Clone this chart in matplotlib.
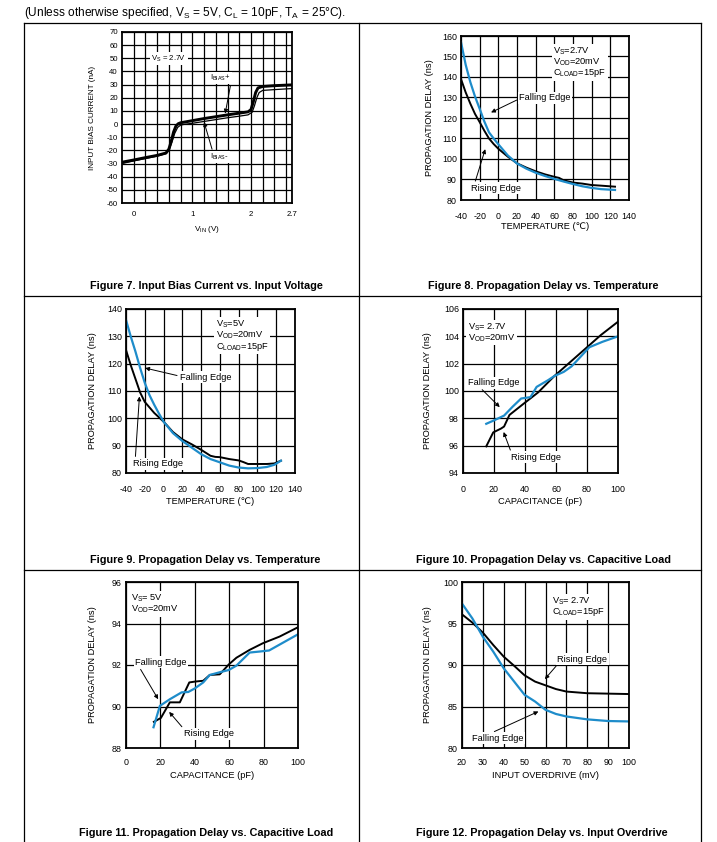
import matplotlib
matplotlib.use('Agg')
import matplotlib.pyplot as plt
from matplotlib import font_manager
from matplotlib.lines import Line2D


def pick_font(name, fallback):
    # use the narrow face if it is installed, otherwise the normal one
    try:
        font_manager.findfont(name, fallback_to_default=False)
        return name
    except Exception:
        return fallback


SANS = 'Liberation Sans'
NARROW = pick_font('Liberation Sans Narrow', SANS)
plt.rcParams['font.family'] = [SANS, 'DejaVu Sans']
plt.rcParams['mathtext.fontset'] = 'custom'
plt.rcParams['mathtext.rm'] = SANS
plt.rcParams['axes.unicode_minus'] = False

BLUE = '#1e8cca'

# 🔹 Figure 7: input bias current
vin_plus = [-0.2, 0.0, 0.2, 0.4, 0.55, 0.6, 0.64, 0.68, 0.72, 0.76, 0.8, 1.0, 1.2, 1.4,
            1.6, 1.8, 1.95, 2.0, 2.04, 2.08, 2.12, 2.2, 2.4, 2.7]
ibias_plus = [-29, -27.3, -25.5, -23.8, -22, -19, -13, -6, -1.5, 0.3, 1.0, 2.6, 4.2, 5.6,
              7.0, 8.3, 9.3, 11, 17, 24, 27.5, 28.6, 29.2, 29.8]
vin_minus = [-0.2, 0.0, 0.2, 0.4, 0.55, 0.6, 0.65, 0.7, 0.75, 0.8, 0.85, 1.0, 1.2, 1.4,
             1.6, 1.8, 1.95, 2.02, 2.06, 2.1, 2.14, 2.2, 2.4, 2.7]
ibias_minus = [-30, -28, -26.2, -24.4, -22.5, -20, -14, -7, -2.5, -0.8, -0.3, 0.6, 2.0, 3.4,
               4.8, 6.0, 7.0, 9, 14, 20, 24, 25.6, 26.2, 27]
vin_ticks = [0, 1, 2, 2.7]
vin_grid = [0.2 * k for k in range(14)]
ibias_ticks = list(range(-60, 71, 10))

# 🔹 Figure 8: delay vs temperature, Vs = 2.7V
t8_fall = [-40, -35, -30, -25, -20, -15, -10, -5, 0, 10, 20, 30, 40, 50, 60, 70, 80, 90, 100, 110, 125]
d8_fall = [157, 146, 137.5, 130.5, 124.5, 118.3, 113, 110, 107.2, 101.8, 97.8, 95.3, 93.3, 91.7,
           90.3, 89.0, 87.8, 86.7, 85.9, 85.3, 84.9]
t8_rise = [-40, -35, -30, -25, -20, -15, -10, -5, 0, 10, 20, 30, 40, 50, 60, 65, 70, 80, 90, 100, 110, 125]
d8_rise = [139, 132.5, 127, 122, 118, 113.8, 110, 107.3, 105, 101.2, 97.9, 95.8, 94, 92.5, 91.3,
           90.8, 89.6, 88.5, 88.0, 87.3, 87.0, 86.5]

# 🔹 Figure 9: delay vs temperature, Vs = 5V
t9_fall = [-40, -35, -30, -25, -20, -15, -10, -5, 0, 10, 20, 30, 40, 50, 60, 70, 80, 90, 100, 110, 118, 125]
d9_fall = [136, 130, 124.5, 118.5, 113, 108.5, 105, 101.8, 98.8, 94.6, 91.7, 89.3, 86.9, 85.1,
           83.9, 82.7, 82.0, 81.7, 81.8, 82.2, 83.0, 84.5]
t9_rise = [-40, -35, -30, -25, -20, -15, -10, 0, 10, 20, 30, 40, 50, 55, 60, 70, 80, 85, 90, 100, 110, 118, 125]
d9_rise = [125, 119.5, 114.5, 109.5, 106, 104, 102, 98.8, 95.0, 92.3, 90.5, 88.5, 86.3, 85.9,
           85.8, 85.1, 84.6, 84.0, 83.3, 83.3, 83.3, 83.5, 84.5]
temp_ticks = list(range(-40, 141, 20))

# 🔹 Figure 10: delay vs capacitance, Vs = 2.7V
c10_fall = [15, 20, 26.5, 32, 37.5, 43.5, 47.5, 55, 59, 65, 70, 75, 81.5, 90, 100]
d10_fall = [97.6, 97.85, 98.2, 98.85, 99.45, 99.55, 100.3, 100.8, 101.1, 101.4, 101.8, 102.4,
            103.2, 103.6, 104.0]
c10_rise = [15, 19.5, 24.5, 26.5, 30, 40, 48.5, 59, 69, 79, 89, 100]
d10_rise = [95.95, 96.97, 97.25, 97.4, 98.25, 99.15, 99.9, 101.1, 102.1, 103.1, 104.1, 105.07]

# 🔹 Figure 11: delay vs capacitance, Vs = 5V
c11_fall = [16, 19.7, 25.5, 32.3, 36.2, 40, 44.9, 48.7, 54.5, 59.8, 64.2, 71.9, 77.8, 83.2, 100]
d11_fall = [89.0, 90.03, 90.35, 90.68, 90.7, 90.87, 91.16, 91.52, 91.65, 91.76, 91.97, 92.6,
            92.65, 92.7, 93.48]
c11_rise = [16.2, 20.3, 25.5, 31.3, 36.8, 40, 44.9, 48.7, 54.5, 59.8, 64.2, 71.9, 79.6, 89.3, 100]
d11_rise = [89.26, 89.45, 90.2, 90.2, 91.16, 91.2, 91.24, 91.52, 91.55, 92.03, 92.35, 92.73,
            93.05, 93.37, 93.82]
cap_ticks = [0, 20, 40, 60, 80, 100]

# 🔹 Figure 12: delay vs overdrive
od12 = [20, 25, 30, 35, 40, 45, 50, 55, 60, 65, 70, 80, 90, 100]
d12_fall = [97.4, 95.6, 93.4, 91.6, 89.6, 88.0, 86.4, 85.6, 84.6, 84.1, 83.8, 83.45, 83.25, 83.2]
d12_rise = [96.1, 95.1, 93.9, 92.4, 91.0, 89.9, 88.75, 88.0, 87.55, 87.1, 86.8, 86.6, 86.55, 86.5]
od_ticks = list(range(20, 101, 10))

captions = ['Figure 7. Input Bias Current vs. Input Voltage',
            'Figure 8. Propagation Delay vs. Temperature',
            'Figure 9. Propagation Delay vs. Temperature',
            'Figure 10. Propagation Delay vs. Capacitive Load',
            'Figure 11. Propagation Delay vs. Capacitive Load',
            'Figure 12. Propagation Delay vs. Input Overdrive']

W, H = 717, 842
fig = plt.figure(figsize=(W / 100, H / 100), dpi=100)


def make_axes(l, t, r, b):
    ax = fig.add_axes([l / W, 1 - b / H, (r - l) / W, (b - t) / H])
    ax._px = (r - l, b - t)
    return ax


def style_axes(ax, xlim, ylim, xticks, yticks, xlabel, ylabel, xlab_px, ylab_px,
               size=6.4, lsize=6.7, xpad=8.3):
    ax.set_xlim(xlim)
    ax.set_ylim(ylim)
    ax.set_xticks(xticks)
    ax.set_yticks(yticks)
    ax.grid(True, which='both', color='black', lw=0.9)
    ax.set_axisbelow(True)
    ax.tick_params(which='both', length=0, labelsize=size)
    ax.tick_params(axis='x', pad=xpad)
    ax.tick_params(axis='y', pad=3)
    for s in ax.spines.values():
        s.set_linewidth(1.3)
    ax.set_xlabel(xlabel, fontsize=lsize)
    ax.set_ylabel(ylabel, fontsize=lsize)
    w, h = ax._px
    ax.xaxis.set_label_coords(0.5, -xlab_px / h)
    ax.yaxis.set_label_coords(-ylab_px / w, 0.5)


BOX = dict(boxstyle='square,pad=0.15', fc='white', ec='none')


def note(ax, label, tip, pos, rel, size=6.7):
    arrow = dict(arrowstyle='-|>', color='black', lw=0.7, mutation_scale=6,
                 shrinkA=1, shrinkB=0, relpos=rel)
    ax.annotate(label, xy=tip, xytext=pos, ha='left', va='center', fontsize=size,
                bbox=BOX, arrowprops=arrow)


def cond_box(ax, text, x, y, size=6.7):
    ax.text(x, y, text, transform=ax.transAxes, ha='left', va='top', fontsize=size,
            linespacing=0.95, bbox=BOX)


VS27 = r'V$_\mathregular{S}$=2.7V'
VOD = r'V$_\mathregular{OD}$=20mV'
CL15 = r'C$_\mathregular{LOAD}$=15pF'
DELAY = 'PROPAGATION DELAY (ns)'

# --- Figure 7
ax7 = make_axes(122, 32, 292, 203)
ax7.plot(vin_plus, ibias_plus, color='black', lw=2.1)
ax7.plot(vin_minus, ibias_minus, color='black', lw=0.9)
style_axes(ax7, (-0.2, 2.7), (-60, 70), vin_ticks, ibias_ticks,
           r'V$_\mathregular{IN}$ (V)', 'INPUT BIAS CURRENT (nA)', 21, 26,
           size=5.6, lsize=5.9, xpad=5.5)
ax7.set_xticklabels(['0', '1', '2', '2.7'])
ax7.set_xticks(vin_grid, minor=True)
ax7.text(0.6, 50, r'V$_\mathregular{S}$ = 2.7V', ha='center', va='center', fontsize=5.6, bbox=BOX)
note(ax7, r'I$_\mathregular{BIAS}$+', (1.56, 8), (1.3, 35), (1.0, 0.0), size=5.6)
note(ax7, r'I$_\mathregular{BIAS}$-', (1.2, 1.5), (1.3, -25), (0.15, 1.0), size=5.6)

# --- Figure 8
ax8 = make_axes(461, 36, 629, 200)
ax8.plot(t8_rise, d8_rise, color='black', lw=1.4)
ax8.plot(t8_fall, d8_fall, color=BLUE, lw=1.6)
style_axes(ax8, (-40, 140), (80, 160), temp_ticks, range(80, 161, 10),
           'TEMPERATURE (℃)', DELAY, 22, 27)
note(ax8, 'Falling Edge', (-7.8, 122.7), (22.5, 129.8), (0.0, 0.4))
note(ax8, 'Rising Edge', (-14, 104.8), (-29.3, 85.7), (0.07, 1.0))
cond_box(ax8, '\n'.join([VS27, VOD, CL15]), 0.55, 0.945)

# --- Figure 9
ax9 = make_axes(126, 309, 295, 473)
ax9.plot(t9_rise, d9_rise, color='black', lw=1.4)
ax9.plot(t9_fall, d9_fall, color=BLUE, lw=1.6)
style_axes(ax9, (-40, 140), (80, 140), temp_ticks, range(80, 141, 10),
           'TEMPERATURE (℃)', DELAY, 24, 28.5)
note(ax9, 'Falling Edge', (-19.6, 118.4), (17.3, 115.1), (0.0, 0.6))
note(ax9, 'Rising Edge', (-25.7, 108), (-32.8, 83.4), (0.05, 1.0))
cond_box(ax9, '\n'.join([r'V$_\mathregular{S}$=5V', VOD, CL15]), 0.53, 0.943)

# --- Figure 10
ax10 = make_axes(463, 309, 618, 473)
ax10.plot(c10_rise, d10_rise, color='black', lw=1.4)
ax10.plot(c10_fall, d10_fall, color=BLUE, lw=1.6)
style_axes(ax10, (0, 100), (94, 106), cap_ticks, range(94, 107, 2),
           'CAPACITANCE (pF)', DELAY, 24, 30.5)
note(ax10, 'Falling Edge', (23.7, 98.82), (3.2, 100.6), (0.23, 0.0))
note(ax10, 'Rising Edge', (26.2, 97.0), (31.2, 95.15), (0.0, 1.0))
cond_box(ax10, '\n'.join([r'V$_\mathregular{S}$= 2.7V', VOD]), 0.03, 0.925)

# --- Figure 11
ax11 = make_axes(126, 582, 298, 748)
ax11.plot(c11_rise, d11_rise, color='black', lw=1.4)
ax11.plot(c11_fall, d11_fall, color=BLUE, lw=1.6)
style_axes(ax11, (0, 100), (88, 96), cap_ticks, range(88, 97, 2),
           'CAPACITANCE (pF)', DELAY, 23, 28.5, xpad=7.5)
note(ax11, 'Falling Edge', (18.7, 90.35), (5.2, 92.13), (0.08, 0.0))
note(ax11, 'Rising Edge', (25.1, 89.74), (33.7, 88.69), (0.0, 1.0))
cond_box(ax11, '\n'.join([r'V$_\mathregular{S}$= 5V', VOD]), 0.03, 0.935)

# --- Figure 12
ax12 = make_axes(462, 582, 629, 748)
ax12.plot(od12, d12_rise, color='black', lw=1.4)
ax12.plot(od12, d12_fall, color=BLUE, lw=1.6)
style_axes(ax12, (20, 100), (80, 100), od_ticks, range(80, 101, 5),
           'INPUT OVERDRIVE (mV)', DELAY, 23, 29.5, xpad=7.5)
note(ax12, 'Rising Edge', (59.7, 88.3), (65.6, 90.7), (0.02, 0.0))
note(ax12, 'Falling Edge', (56.6, 84.4), (24.8, 81.2), (0.35, 1.0))
cond_box(ax12, '\n'.join([r'V$_\mathregular{S}$= 2.7V', CL15]), 0.537, 0.92)

# --- page frame, header and captions
for x0, y0, x1, y1 in [(24, 23, 701, 23), (24, 296, 701, 296), (24, 570, 701, 570),
                       (24, 23, 24, 842), (359, 23, 359, 842), (701, 23, 701, 842)]:
    fig.add_artist(Line2D([x0 / W, x1 / W], [1 - y0 / H, 1 - y1 / H], color='black', lw=0.9))

fig.text(24 / W, 1 - 13 / H,
         r'(Unless otherwise specified, V$_\mathregular{S}$ = 5V, C$_\mathregular{L}$ = 10pF, '
         r'T$_\mathregular{A}$ = 25°C).', ha='left', va='center', fontsize=8.6)

cap_pos = [(206, 286), (543, 286), (205, 560), (544, 560), (206, 833), (542, 833)]
for text, (cx, cy) in zip(captions, cap_pos):
    fig.text(cx / W, 1 - cy / H, text, ha='center', va='center', fontsize=7.8,
             fontweight='bold', family=[NARROW, 'DejaVu Sans'])

fig.savefig('out.png', dpi=100)
